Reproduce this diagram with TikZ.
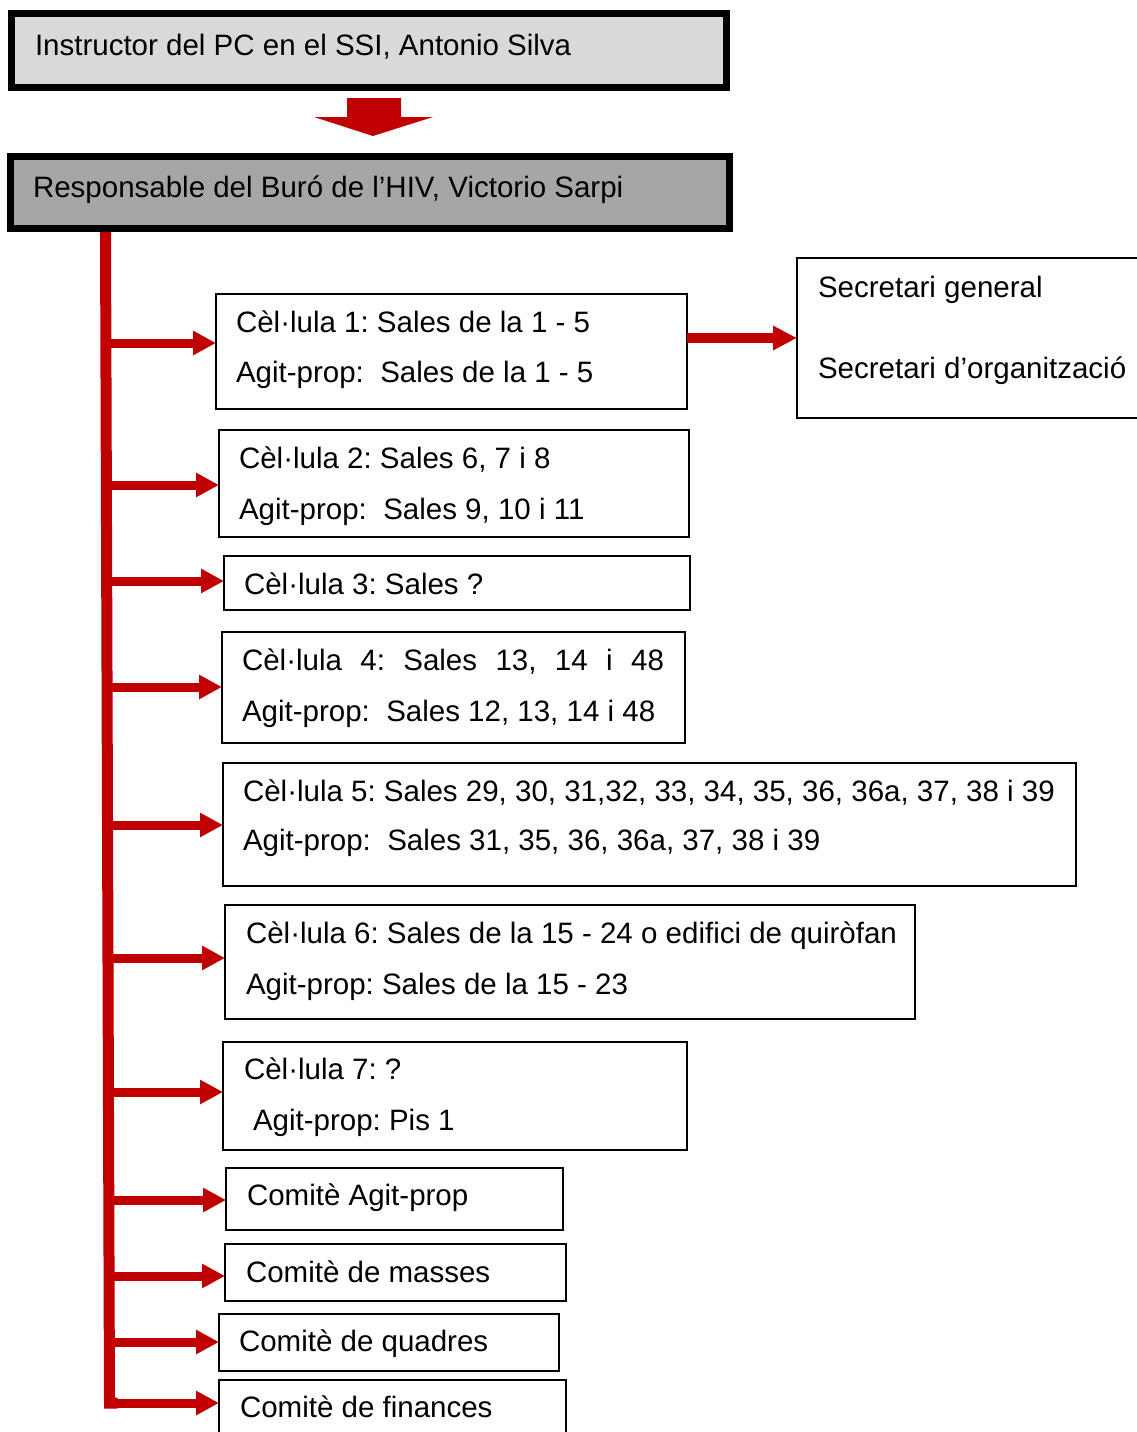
\documentclass[tikz,border=0pt]{standalone}
\usepackage{fontspec}
\setmainfont{Liberation Sans}
\usetikzlibrary{arrows.meta}
\definecolor{arrred}{HTML}{C00000}
\definecolor{lightbox}{HTML}{D9D9D9}
\definecolor{darkbox}{HTML}{A6A6A6}
\frenchspacing
\begin{document}
\begin{tikzpicture}[x=1pt,y=-1pt,
  every node/.style={font=\fontsize{29.5}{35}\selectfont, outer sep=0pt},
  headbox/.style={draw=black, line width=7pt, minimum width=#1, minimum height=72pt, inner sep=0pt, anchor=north west},
  cbox/.style={draw=black, line width=2pt, inner sep=0pt, anchor=north west},
  txt/.style={inner sep=0pt, anchor=base west},
  branch/.style={draw=arrred, line width=9pt, -{Triangle[length=23pt,width=23pt]}},
  trunkline/.style={draw=arrred, line width=11pt}
]
\useasboundingbox (0,0) rectangle (1137,1432);
\clip (0,0) rectangle (1137,1432);
\fill[white] (0,0) rectangle (1137,1432);

% head boxes
\node[headbox=715pt, fill=lightbox, minimum height=74pt] (b1) at (11.5,13.5) {};
\node[txt] (b1t) at (35,55) {Instructor del PC en el SSI, Antonio Silva};
\node[headbox=719pt, fill=darkbox] (b2) at (10.5,156.5) {};
\node[txt] (b2t) at (33,197) {Responsable del Buró de l’HIV, Victorio Sarpi};

% big down arrow
\coordinate (da) at (373,98);
\fill[arrred] (da) ++(-26,0) -- ++(54,0) -- ++(0,19) -- ++(32,0) -- (373,136) -- (314,117) -- (347,117) -- cycle;

% cell boxes
\node[cbox, minimum width=471pt, minimum height=115pt] (c1) at (216,294) {};
\node[txt] (c1a) at (236,332) {Cèl·lula 1: Sales de la 1 - 5};
\node[txt] (c1b) at (236,382) {Agit-prop:\ \ Sales de la 1 - 5};

\node[cbox, minimum width=470pt, minimum height=107pt] (c2) at (219,430) {};
\node[txt] (c2a) at (239,468) {Cèl·lula 2: Sales 6, 7 i 8};
\node[txt] (c2b) at (239,519) {Agit-prop:\ \ Sales 9, 10 i 11};

\node[cbox, minimum width=466pt, minimum height=54pt] (c3) at (224,556) {};
\node[txt] (c3a) at (244,594) {Cèl·lula 3: Sales ?};

\node[cbox, minimum width=463pt, minimum height=111pt] (c4) at (222,632) {};
\node[txt] (c4a) at (242,670) {\makebox[422pt][s]{Cèl·lula 4: Sales 13, 14 i 48}};
\node[txt] (c4b) at (242,721) {Agit-prop:\ \ Sales 12, 13, 14 i 48};

\node[cbox, minimum width=853pt, minimum height=123pt] (c5) at (223,763) {};
\node[txt] (c5a) at (243,801) {Cèl·lula 5: Sales 29, 30, 31,32, 33, 34, 35, 36, 36a, 37, 38 i 39};
\node[txt] (c5b) at (243,850) {Agit-prop:\ \ Sales 31, 35, 36, 36a, 37, 38 i 39};

\node[cbox, minimum width=690pt, minimum height=114pt] (c6) at (225,905) {};
\node[txt] (c6a) at (246,943) {Cèl·lula 6: Sales de la 15 - 24 o edifici de quiròfan};
\node[txt] (c6b) at (246,994) {Agit-prop: Sales de la 15 - 23};

\node[cbox, minimum width=464pt, minimum height=108pt] (c7) at (223,1042) {};
\node[txt] (c7a) at (244,1079) {Cèl·lula 7: ?};
\node[txt] (c7b) at (253,1130) {Agit-prop: Pis 1};

\node[cbox, minimum width=337pt, minimum height=62pt] (ca) at (226,1168) {};
\node[txt] (cat) at (247,1205) {Comitè Agit-prop};

\node[cbox, minimum width=341pt, minimum height=57pt] (cm) at (225,1244) {};
\node[txt] (cmt) at (246,1282) {Comitè de masses};

\node[cbox, minimum width=340pt, minimum height=57pt] (cq) at (219,1314) {};
\node[txt] (cqt) at (239,1351) {Comitè de quadres};

\node[cbox, minimum width=347pt, minimum height=80pt] (cf) at (219,1380) {};
\node[txt] (cft) at (240,1417) {Comitè de finances};

% secretari box
\node[cbox, minimum width=360pt, minimum height=160pt] (sec) at (797,258) {};
\node[txt] (sec1) at (818,297) {Secretari general};
\node[txt] (sec2) at (818,378) {Secretari d’organització};

% trunk
\coordinate (ttop) at (105.5,232);
\coordinate (tbot) at (109.5,1403);
\draw[branch] (tbot) -- (tbot -| cf.west);
\draw[trunkline, line join=miter] (ttop) -- (tbot) -- ++(8,0);

% branches
\foreach \yy/\nm in {343/c1, 485/c2, 581/c3, 687/c4, 825/c5, 958/c6, 1092/c7, 1200/ca, 1276/cm, 1342/cq}{
  \coordinate (br\nm) at (108,\yy);
  \draw[branch] (br\nm) -- (br\nm -| \nm.west);
}

% arrow to secretari
\draw[draw=arrred, line width=10pt, -{Triangle[length=24pt,width=23pt]}] (c1.east |- sec.west) -- (sec.west);
\end{tikzpicture}
\end{document}
